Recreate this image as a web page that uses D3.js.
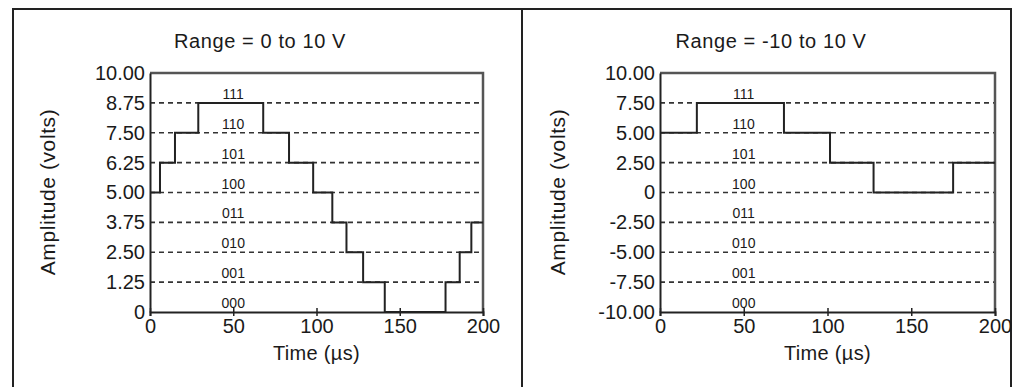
<!DOCTYPE html>
<html>
<head>
<meta charset="utf-8">
<script src="https://cdn.jsdelivr.net/npm/d3@7"></script>
<style>
  body { margin: 0; background: #fff; }
  svg { display: block; font-family: "Liberation Sans", Arial, sans-serif; }
</style>
</head>
<body>
<svg id="chart" width="1019" height="387"></svg>
<script>
// ---- data ----
const codes = ["000", "001", "010", "011", "100", "101", "110", "111"];

const leftTitle = "Range = 0 to 10 V";
const leftTicks = [0, 1.25, 2.5, 3.75, 5, 6.25, 7.5, 8.75, 10];
const leftTickLabels = ["0", "1.25", "2.50", "3.75", "5.00", "6.25", "7.50", "8.75", "10.00"];
// [time (us), amplitude (V)] held until the next point
const leftSignal = [
  [0, 5], [6, 6.25], [15, 7.5], [29, 8.75], [68, 7.5], [83.5, 6.25],
  [98, 5], [109.5, 3.75], [118, 2.5], [128, 1.25], [141, 0],
  [177.5, 1.25], [186, 2.5], [193, 3.75], [200, 3.75]
];

const rightTitle = "Range = -10 to 10 V";
const rightTicks = [-10, -7.5, -5, -2.5, 0, 2.5, 5, 7.5, 10];
const rightTickLabels = ["-10.00", "-7.50", "-5.00", "-2.50", "0", "2.50", "5.00", "7.50", "10.00"];
const rightSignal = [
  [0, 5], [22, 7.5], [74, 5], [101.5, 2.5], [127.5, 0], [175, 2.5], [200, 2.5]
];

const timeTicks = [0, 50, 100, 150, 200];

const svg = d3.select("#chart");

// outer frame + divider
svg.append("rect")
  .attr("x", 13).attr("y", 9)
  .attr("width", 998).attr("height", 390)
  .attr("fill", "none")
  .attr("stroke", "#222")
  .attr("stroke-width", 2);
svg.append("line")
  .attr("x1", 522).attr("x2", 522)
  .attr("y1", 9).attr("y2", 390)
  .attr("stroke", "#222")
  .attr("stroke-width", 2);

function drawPanel(opt) {
  const x = d3.scaleLinear().domain([0, 200]).range([opt.left, opt.right]);
  const y = d3.scaleLinear().domain(d3.extent(opt.ticks)).range([312, 73]);
  const g = svg.append("g");

  // title
  g.append("text")
    .attr("x", opt.titleX)
    .attr("y", 48)
    .attr("text-anchor", "middle")
    .attr("font-size", "20px")
    .attr("letter-spacing", "0.6px")
    .attr("fill", "#1a1a1a")
    .text(opt.title);

  // dashed level lines
  g.selectAll(".grid")
    .data(opt.ticks.slice(1, -1))
    .enter()
    .append("line")
    .attr("x1", opt.left).attr("x2", opt.right)
    .attr("y1", d => y(d)).attr("y2", d => y(d))
    .attr("stroke", "#333")
    .attr("stroke-width", 1.6)
    .attr("stroke-dasharray", "5,4");

  // code labels in each band
  g.selectAll(".code")
    .data(codes)
    .enter()
    .append("text")
    .attr("x", x(50))
    .attr("y", (d, i) => y(opt.ticks[i]) - 4)
    .attr("text-anchor", "middle")
    .attr("font-size", "14px")
    .attr("fill", "#1a1a1a")
    .text(d => d);

  // plot border top/right
  g.append("path")
    .attr("d", `M${opt.left},${y(opt.ticks[opt.ticks.length - 1])}H${opt.right}V${y(opt.ticks[0])}`)
    .attr("fill", "none")
    .attr("stroke", "#555")
    .attr("stroke-width", 2.5);

  // signal
  const line = d3.line()
    .x(d => x(d[0]))
    .y(d => y(d[1]))
    .curve(d3.curveStepAfter);
  g.append("path")
    .datum(opt.signal)
    .attr("d", line)
    .attr("fill", "none")
    .attr("stroke", "#222")
    .attr("stroke-width", 2);

  // y axis
  const yAxis = d3.axisLeft(y)
    .tickValues(opt.ticks)
    .tickSize(0)
    .tickPadding(5)
    .tickFormat((d, i) => opt.tickLabels[i]);
  const ya = g.append("g")
    .attr("transform", `translate(${opt.left},0)`)
    .call(yAxis);
  ya.select(".domain").attr("stroke", "#222").attr("stroke-width", 2);
  ya.selectAll("text")
    .attr("font-size", "20px")
    .attr("font-family", "Liberation Sans, Arial, sans-serif")
    .attr("fill", "#1a1a1a");

  // x axis
  const xAxis = d3.axisBottom(x)
    .tickValues(timeTicks)
    .tickSize(4)
    .tickPadding(3)
    .tickFormat(d3.format("d"));
  const xa = g.append("g")
    .attr("transform", `translate(0,${y(opt.ticks[0])})`)
    .call(xAxis);
  xa.select(".domain").attr("stroke", "#222").attr("stroke-width", 2);
  xa.selectAll(".tick line").attr("stroke", "#222").attr("stroke-width", 1.5).attr("y1", -4);
  xa.selectAll("text")
    .attr("font-size", "20px")
    .attr("font-family", "Liberation Sans, Arial, sans-serif")
    .attr("fill", "#1a1a1a");

  // axis titles
  g.append("text")
    .attr("x", (opt.left + opt.right) / 2)
    .attr("y", 360)
    .attr("text-anchor", "middle")
    .attr("font-size", "20px")
    .attr("letter-spacing", "0.3px")
    .attr("fill", "#1a1a1a")
    .text("Time (\u00b5s)");

  g.append("text")
    .attr("transform", `translate(${opt.yLabelX},192) rotate(-90)`)
    .attr("text-anchor", "middle")
    .attr("font-size", "21px")
    .attr("letter-spacing", "0.6px")
    .attr("fill", "#1a1a1a")
    .text("Amplitude (volts)");
}

drawPanel({
  title: leftTitle, titleX: 260, left: 150, right: 483,
  ticks: leftTicks, tickLabels: leftTickLabels, signal: leftSignal, yLabelX: 55
});
drawPanel({
  title: rightTitle, titleX: 771, left: 660, right: 995,
  ticks: rightTicks, tickLabels: rightTickLabels, signal: rightSignal, yLabelX: 565
});
</script>
</body>
</html>
